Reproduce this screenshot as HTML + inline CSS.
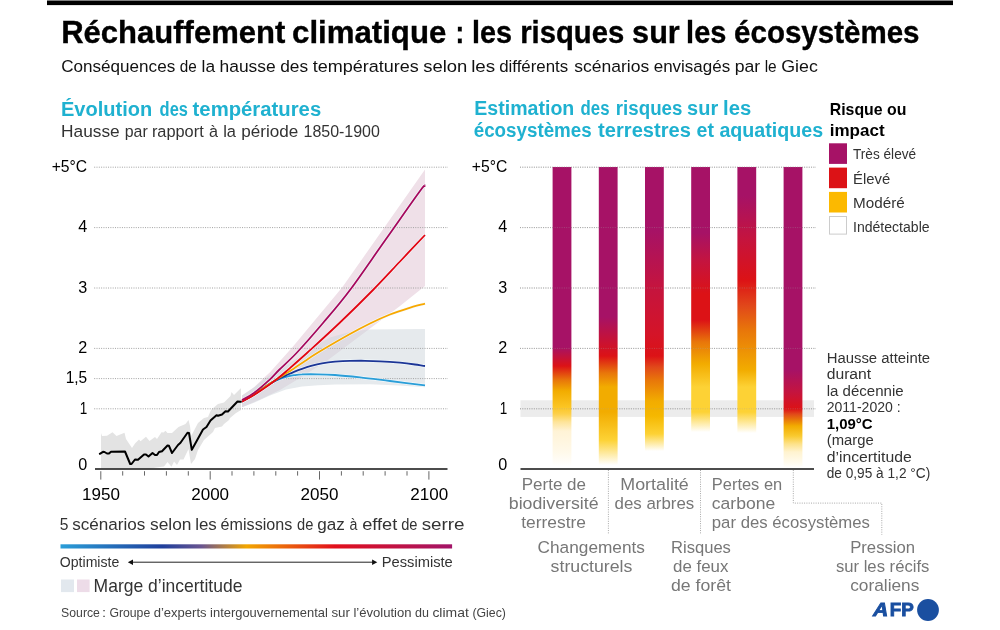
<!DOCTYPE html>
<html lang="fr">
<head>
<meta charset="utf-8">
<title>Réchauffement climatique : les risques sur les écosystèmes</title>
<style>html,body{margin:0;padding:0;background:#fff}body{width:1000px;height:630px;overflow:hidden;font-family:"Liberation Sans",sans-serif}svg{display:block}</style>
</head>
<body>
<svg role="img" aria-label="Réchauffement climatique : les risques sur les écosystèmes" width="1000" height="630" viewBox="0 0 1000 630" font-family='"Liberation Sans", sans-serif'>
<defs>
<linearGradient id="b0" gradientUnits="userSpaceOnUse" x1="0" y1="167" x2="0" y2="469">
<stop offset="0.0000" stop-color="#a61266"/>
<stop offset="0.5960" stop-color="#a61266"/>
<stop offset="0.6589" stop-color="#dc1216"/>
<stop offset="0.7053" stop-color="#e8760a"/>
<stop offset="0.7417" stop-color="#f2ac00"/>
<stop offset="0.7947" stop-color="#fbc523"/>
<stop offset="0.8179" stop-color="#fdd04a"/>
<stop offset="0.8444" stop-color="#fee49a"/>
<stop offset="0.8742" stop-color="#fff3d6"/>
<stop offset="0.9437" stop-color="#fff9ea"/>
<stop offset="0.9901" stop-color="#ffffff"/>
</linearGradient>
<linearGradient id="b1" gradientUnits="userSpaceOnUse" x1="0" y1="167" x2="0" y2="469">
<stop offset="0.0000" stop-color="#a61266"/>
<stop offset="0.4967" stop-color="#a61266"/>
<stop offset="0.6258" stop-color="#dc1216"/>
<stop offset="0.6821" stop-color="#e8760a"/>
<stop offset="0.7285" stop-color="#f2ac00"/>
<stop offset="0.8113" stop-color="#f2ac00"/>
<stop offset="0.9040" stop-color="#fdd235"/>
<stop offset="0.9868" stop-color="#ffffff"/>
</linearGradient>
<linearGradient id="b2" gradientUnits="userSpaceOnUse" x1="0" y1="167" x2="0" y2="469">
<stop offset="0.0000" stop-color="#a61266"/>
<stop offset="0.2086" stop-color="#a61266"/>
<stop offset="0.3940" stop-color="#c4143f"/>
<stop offset="0.5530" stop-color="#d41428"/>
<stop offset="0.6258" stop-color="#dc1216"/>
<stop offset="0.6623" stop-color="#e1481a"/>
<stop offset="0.7053" stop-color="#e8760a"/>
<stop offset="0.7748" stop-color="#f2ac00"/>
<stop offset="0.8245" stop-color="#f5b800"/>
<stop offset="0.8841" stop-color="#fdd235"/>
<stop offset="0.9404" stop-color="#ffffff"/>
</linearGradient>
<linearGradient id="b3" gradientUnits="userSpaceOnUse" x1="0" y1="167" x2="0" y2="469">
<stop offset="0.0000" stop-color="#a61266"/>
<stop offset="0.2185" stop-color="#a61266"/>
<stop offset="0.3113" stop-color="#c4143f"/>
<stop offset="0.4205" stop-color="#dc1216"/>
<stop offset="0.5066" stop-color="#dc1216"/>
<stop offset="0.5795" stop-color="#e8760a"/>
<stop offset="0.6523" stop-color="#f2ac00"/>
<stop offset="0.7285" stop-color="#fdd235"/>
<stop offset="0.8113" stop-color="#fdd235"/>
<stop offset="0.8775" stop-color="#ffffff"/>
</linearGradient>
<linearGradient id="b4" gradientUnits="userSpaceOnUse" x1="0" y1="167" x2="0" y2="469">
<stop offset="0.0000" stop-color="#a61266"/>
<stop offset="0.0960" stop-color="#a61266"/>
<stop offset="0.2351" stop-color="#c4143f"/>
<stop offset="0.3742" stop-color="#dc1216"/>
<stop offset="0.4603" stop-color="#e1481a"/>
<stop offset="0.5397" stop-color="#e8760a"/>
<stop offset="0.6722" stop-color="#f2ac00"/>
<stop offset="0.7285" stop-color="#fdd235"/>
<stop offset="0.8113" stop-color="#fdd235"/>
<stop offset="0.8808" stop-color="#ffffff"/>
</linearGradient>
<linearGradient id="b5" gradientUnits="userSpaceOnUse" x1="0" y1="167" x2="0" y2="469">
<stop offset="0.0000" stop-color="#a61266"/>
<stop offset="0.6722" stop-color="#a61266"/>
<stop offset="0.7450" stop-color="#c4143f"/>
<stop offset="0.8013" stop-color="#dc1216"/>
<stop offset="0.8179" stop-color="#e1481a"/>
<stop offset="0.8361" stop-color="#e8760a"/>
<stop offset="0.8576" stop-color="#f2ac00"/>
<stop offset="0.8907" stop-color="#f9ca30"/>
<stop offset="0.9172" stop-color="#fde28a"/>
<stop offset="0.9437" stop-color="#fff3d0"/>
<stop offset="0.9834" stop-color="#fffcf2"/>
<stop offset="0.9967" stop-color="#ffffff"/>
</linearGradient>
<linearGradient id="sc" x1="0" y1="0" x2="1" y2="0"><stop offset="0" stop-color="#2a9ed8"/><stop offset="0.26" stop-color="#1f3f9c"/><stop offset="0.36" stop-color="#6a5590"/><stop offset="0.475" stop-color="#f2a600"/><stop offset="0.70" stop-color="#e2101c"/><stop offset="1" stop-color="#a21468"/></linearGradient>
</defs>
<rect width="1000" height="630" fill="#fff"/>
<rect x="47" y="0.5" width="906" height="4.6" fill="#000"/>
<text y="43.2" font-size="30.5" font-weight="700" fill="#000" stroke="#000" stroke-width="0.35"><tspan x="61.2" textLength="224.1" lengthAdjust="spacingAndGlyphs">Réchauffement</tspan> <tspan x="292.1" textLength="154.2" lengthAdjust="spacingAndGlyphs">climatique</tspan> <tspan x="455.6" textLength="8.7" lengthAdjust="spacingAndGlyphs">:</tspan> <tspan x="472.1" textLength="40.0" lengthAdjust="spacingAndGlyphs">les</tspan> <tspan x="520.2" textLength="104.1" lengthAdjust="spacingAndGlyphs">risques</tspan> <tspan x="632.1" textLength="47.7" lengthAdjust="spacingAndGlyphs">sur</tspan> <tspan x="686.1" textLength="40.2" lengthAdjust="spacingAndGlyphs">les</tspan> <tspan x="734.1" textLength="185.4" lengthAdjust="spacingAndGlyphs">écosystèmes</tspan></text>
<text y="71.6" font-size="17.2" fill="#111"><tspan x="61.2" textLength="114.0" lengthAdjust="spacingAndGlyphs">Conséquences</tspan> <tspan x="179.7" textLength="17.0" lengthAdjust="spacingAndGlyphs">de</tspan> <tspan x="201.6" textLength="13.5" lengthAdjust="spacingAndGlyphs">la</tspan> <tspan x="219.6" textLength="56.1" lengthAdjust="spacingAndGlyphs">hausse</tspan> <tspan x="280.2" textLength="27.9" lengthAdjust="spacingAndGlyphs">des</tspan> <tspan x="312.7" textLength="106.0" lengthAdjust="spacingAndGlyphs">températures</tspan> <tspan x="423.2" textLength="44.1" lengthAdjust="spacingAndGlyphs">selon</tspan> <tspan x="471.2" textLength="24.0" lengthAdjust="spacingAndGlyphs">les</tspan> <tspan x="499.2" textLength="69.0" lengthAdjust="spacingAndGlyphs">différents</tspan> <tspan x="574.2" textLength="75.0" lengthAdjust="spacingAndGlyphs">scénarios</tspan> <tspan x="653.7" textLength="76.5" lengthAdjust="spacingAndGlyphs">envisagés</tspan> <tspan x="734.7" textLength="25.5" lengthAdjust="spacingAndGlyphs">par</tspan> <tspan x="764.7" textLength="12.0" lengthAdjust="spacingAndGlyphs">le</tspan> <tspan x="781.2" textLength="36.6" lengthAdjust="spacingAndGlyphs">Giec</tspan></text>
<text y="116.0" font-size="20" font-weight="700" fill="#1fb1d0"><tspan x="61.0" textLength="91.2" lengthAdjust="spacingAndGlyphs">Évolution</tspan> <tspan x="159.6" textLength="28.3" lengthAdjust="spacingAndGlyphs">des</tspan> <tspan x="192.6" textLength="128.6" lengthAdjust="spacingAndGlyphs">températures</tspan></text>
<text y="137.4" font-size="17.2" fill="#333"><tspan x="61.1" textLength="58.6" lengthAdjust="spacingAndGlyphs">Hausse</tspan> <tspan x="124.7" textLength="23.0" lengthAdjust="spacingAndGlyphs">par</tspan> <tspan x="151.9" textLength="51.8" lengthAdjust="spacingAndGlyphs">rapport</tspan> <tspan x="209.0" textLength="9.0" lengthAdjust="spacingAndGlyphs">à</tspan> <tspan x="223.2" textLength="12.8" lengthAdjust="spacingAndGlyphs">la</tspan> <tspan x="241.2" textLength="57.0" lengthAdjust="spacingAndGlyphs">période</tspan> <tspan x="303.5" textLength="76.4" lengthAdjust="spacingAndGlyphs">1850-1900</tspan></text>
<text y="115.2" font-size="20" font-weight="700" fill="#1fb1d0"><tspan x="474.3" textLength="100.0" lengthAdjust="spacingAndGlyphs">Estimation</tspan> <tspan x="580.6" textLength="28.9" lengthAdjust="spacingAndGlyphs">des</tspan> <tspan x="615.8" textLength="66.6" lengthAdjust="spacingAndGlyphs">risques</tspan> <tspan x="687.1" textLength="31.1" lengthAdjust="spacingAndGlyphs">sur</tspan> <tspan x="723.1" textLength="28.2" lengthAdjust="spacingAndGlyphs">les</tspan></text>
<text y="136.9" font-size="20" font-weight="700" fill="#1fb1d0"><tspan x="473.7" textLength="118.0" lengthAdjust="spacingAndGlyphs">écosystèmes</tspan> <tspan x="598.1" textLength="92.8" lengthAdjust="spacingAndGlyphs">terrestres</tspan> <tspan x="696.5" textLength="17.4" lengthAdjust="spacingAndGlyphs">et</tspan> <tspan x="719.4" textLength="103.7" lengthAdjust="spacingAndGlyphs">aquatiques</tspan></text>
<path d="M101,433 L102,436 L107,435.8 L112.5,432.2 L116.5,436 L124.5,432.8 L126,439 L132,448 L135,443.5 L139,439.5 L140.5,441.2 L146,436.8 L149.5,441 L155,437 L157,439 L161.5,432.2 L163.5,432.5 L165.5,430.8 L167.5,433 L172,433 L178.5,427 L185.5,424 L188.5,420 L190,426 L191.2,436 L198,423 L204,418 L208,417 L211,410 L218,404 L224,402.5 L230.5,396 L231.5,392 L234,395 L240.5,388.5 L241,388.5 L241,410 L236,413 L230,418 L229,420 L224,424 L222,426.5 L215,428 L213,432 L204,440 L198,450 L195,459 L191,464 L188.5,449 L183.5,459.5 L180,459.5 L177,465 L174,461.5 L171.5,466.8 L167.5,462 L164,466.5 L160,467 L150,468.5 L101,468.5Z" fill="#e3e3e3"/>
<path d="M242,395.6 L254,387.3 L265,376.8 L270,372.2 L285,355.5 L293,346.5 L340,290 L343,286.3 L425,169.5 L425,286 L400,306 L360,336 L328,360 L300,378 L280,390 L260,399.5 L242,407.2Z" fill="#efe0e8"/>
<path d="M242,395.6 L254,387.5 L265,378.5 L275,372 L285,366.5 L300,356.5 L315,346 L330,337.5 L350,332 L368,329.6 L425,329 L425,387.2 L400,385.4 L370,384.3 L335,384.6 L318,385.2 L302,386.4 L286,389.6 L270,395.6 L254,402.8 L242,407.2Z" fill="#cdd5db" fill-opacity="0.5"/>
<line x1="94.2" x2="448" y1="167.2" y2="167.2" stroke="#a2a2a2" stroke-width="1" stroke-dasharray="1 1.31"/>
<line x1="94.2" x2="448" y1="227.6" y2="227.6" stroke="#a2a2a2" stroke-width="1" stroke-dasharray="1 1.31"/>
<line x1="94.2" x2="448" y1="288.0" y2="288.0" stroke="#a2a2a2" stroke-width="1" stroke-dasharray="1 1.31"/>
<line x1="94.2" x2="448" y1="348.4" y2="348.4" stroke="#a2a2a2" stroke-width="1" stroke-dasharray="1 1.31"/>
<line x1="94.2" x2="448" y1="378.6" y2="378.6" stroke="#a2a2a2" stroke-width="1" stroke-dasharray="1 1.31"/>
<line x1="94.2" x2="448" y1="408.8" y2="408.8" stroke="#a2a2a2" stroke-width="1" stroke-dasharray="1 1.31"/>
<path d="M242,401.4 C244.0,400.2 249.3,397.3 254,394.4 C258.7,391.5 266.0,386.3 270,383.8 C274.0,381.3 275.3,380.8 278,379.6 C280.7,378.4 283.3,377.5 286,376.8 C288.7,376.1 291.3,375.6 294,375.2 C296.7,374.8 298.0,374.5 302,374.4 C306.0,374.2 312.5,374.2 318,374.3 C323.5,374.4 328.0,374.5 335,375 C342.0,375.5 350.8,376.4 360,377.4 C369.2,378.4 379.2,379.7 390,381 C400.8,382.3 419.2,384.7 425,385.4" fill="none" stroke="#f4fbff" stroke-opacity="0.8" stroke-width="3.1"/>
<path d="M242,401.4 C244.0,400.2 249.3,397.4 254,394.4 C258.7,391.4 266.0,386.1 270,383.6 C274.0,381.1 275.3,380.6 278,379.2 C280.7,377.8 283.3,376.6 286,375.4 C288.7,374.2 291.3,372.9 294,371.8 C296.7,370.7 299.0,369.8 302,368.8 C305.0,367.8 308.7,366.6 312,365.7 C315.3,364.8 318.2,364.1 322,363.4 C325.8,362.7 330.3,362.1 335,361.7 C339.7,361.3 345.0,361.0 350,360.9 C355.0,360.8 360.0,360.7 365,360.8 C370.0,360.9 374.2,361.0 380,361.3 C385.8,361.6 394.2,362.2 400,362.7 C405.8,363.2 410.8,363.9 415,364.5 C419.2,365.1 423.3,365.8 425,366" fill="none" stroke="#f4fbff" stroke-opacity="0.8" stroke-width="3.1"/>
<path d="M242,401.4 C244.0,400.2 249.3,397.4 254,394.4 C258.7,391.4 266.0,386.2 270,383.6 C274.0,381.0 275.3,380.3 278,378.6 C280.7,376.9 283.7,374.9 286,373.4 C288.3,371.9 288.8,371.9 292,369.8 C295.2,367.7 300.7,363.9 305,361 C309.3,358.1 310.5,357.0 318,352.5 C325.5,348.0 341.3,338.8 350,334 C358.7,329.2 363.3,326.8 370,323.5 C376.7,320.2 383.7,317.0 390,314.5 C396.3,312.0 402.2,310.1 408,308.3 C413.8,306.5 422.2,304.4 425,303.6" fill="none" stroke="#f4fbff" stroke-opacity="0.8" stroke-width="3.1"/>
<path d="M242,401.7 C244.0,400.6 249.3,397.8 254,394.9 C258.7,392.0 266.0,387.0 270,384.2 C274.0,381.4 275.3,380.3 278,378.2 C280.7,376.1 281.1,375.8 286,371.5 C290.9,367.2 298.5,360.7 307.5,352.5 C316.5,344.3 329.1,332.9 340,322.5 C350.9,312.1 363.0,300.2 373,290 C383.0,279.8 391.3,270.7 400,261.5 C408.7,252.3 420.8,239.4 425,235" fill="none" stroke="#f4fbff" stroke-opacity="0.8" stroke-width="3.1"/>
<path d="M242,400.1 C244.0,398.9 249.3,396.4 254,392.9 C258.7,389.4 265.8,383.1 270,379.3 C274.2,375.5 274.5,374.5 279,370 C283.5,365.5 289.7,360.3 297,352.5 C304.3,344.7 314.2,333.4 323,323 C331.8,312.6 339.7,303.8 350,290 C360.3,276.2 373.3,257.0 385,240.5 C396.7,224.0 413.3,200.1 420,191 C426.7,181.9 424.2,186.8 425,186" fill="none" stroke="#f4fbff" stroke-opacity="0.8" stroke-width="3.1"/>
<path d="M242,401.4 C244.0,400.2 249.3,397.3 254,394.4 C258.7,391.5 266.0,386.3 270,383.8 C274.0,381.3 275.3,380.8 278,379.6 C280.7,378.4 283.3,377.5 286,376.8 C288.7,376.1 291.3,375.6 294,375.2 C296.7,374.8 298.0,374.5 302,374.4 C306.0,374.2 312.5,374.2 318,374.3 C323.5,374.4 328.0,374.5 335,375 C342.0,375.5 350.8,376.4 360,377.4 C369.2,378.4 379.2,379.7 390,381 C400.8,382.3 419.2,384.7 425,385.4" fill="none" stroke="#2a9ed8" stroke-width="1.8"/>
<path d="M242,401.4 C244.0,400.2 249.3,397.4 254,394.4 C258.7,391.4 266.0,386.1 270,383.6 C274.0,381.1 275.3,380.6 278,379.2 C280.7,377.8 283.3,376.6 286,375.4 C288.7,374.2 291.3,372.9 294,371.8 C296.7,370.7 299.0,369.8 302,368.8 C305.0,367.8 308.7,366.6 312,365.7 C315.3,364.8 318.2,364.1 322,363.4 C325.8,362.7 330.3,362.1 335,361.7 C339.7,361.3 345.0,361.0 350,360.9 C355.0,360.8 360.0,360.7 365,360.8 C370.0,360.9 374.2,361.0 380,361.3 C385.8,361.6 394.2,362.2 400,362.7 C405.8,363.2 410.8,363.9 415,364.5 C419.2,365.1 423.3,365.8 425,366" fill="none" stroke="#1c3596" stroke-width="1.8"/>
<path d="M242,401.4 C244.0,400.2 249.3,397.4 254,394.4 C258.7,391.4 266.0,386.2 270,383.6 C274.0,381.0 275.3,380.3 278,378.6 C280.7,376.9 283.7,374.9 286,373.4 C288.3,371.9 288.8,371.9 292,369.8 C295.2,367.7 300.7,363.9 305,361 C309.3,358.1 310.5,357.0 318,352.5 C325.5,348.0 341.3,338.8 350,334 C358.7,329.2 363.3,326.8 370,323.5 C376.7,320.2 383.7,317.0 390,314.5 C396.3,312.0 402.2,310.1 408,308.3 C413.8,306.5 422.2,304.4 425,303.6" fill="none" stroke="#f8a800" stroke-width="1.8"/>
<path d="M242,401.7 C244.0,400.6 249.3,397.8 254,394.9 C258.7,392.0 266.0,387.0 270,384.2 C274.0,381.4 275.3,380.3 278,378.2 C280.7,376.1 281.1,375.8 286,371.5 C290.9,367.2 298.5,360.7 307.5,352.5 C316.5,344.3 329.1,332.9 340,322.5 C350.9,312.1 363.0,300.2 373,290 C383.0,279.8 391.3,270.7 400,261.5 C408.7,252.3 420.8,239.4 425,235" fill="none" stroke="#e30512" stroke-width="1.8"/>
<path d="M242,400.1 C244.0,398.9 249.3,396.4 254,392.9 C258.7,389.4 265.8,383.1 270,379.3 C274.2,375.5 274.5,374.5 279,370 C283.5,365.5 289.7,360.3 297,352.5 C304.3,344.7 314.2,333.4 323,323 C331.8,312.6 339.7,303.8 350,290 C360.3,276.2 373.3,257.0 385,240.5 C396.7,224.0 413.3,200.1 420,191 C426.7,181.9 424.2,186.8 425,186" fill="none" stroke="#a6085c" stroke-width="1.8"/>
<path d="M99.8,453.8 L103,451.8 L104.5,452 L107,453.5 L109,453.5 L111,451.8 L125,451.5 L130.2,464 L131.5,464 L135,459.5 L138,459.8 L144,454.5 L146,454.5 L148.5,456.5 L152.5,453 L155,455 L157,455 L159,452 L162,451.2 L167.5,445.5 L169,445.8 L172,453 L178,445 L180.5,442.8 L187.5,432.8 L189,433 L191.8,449.8 L195,444 L203,429.5 L206.5,427 L210.5,420.5 L216.5,415.2 L218,415.8 L222,414.5 L225.5,411.2 L228,411.5 L237.5,401.5 L240.8,401.8" fill="none" stroke="#000" stroke-width="2" stroke-linejoin="round" stroke-linecap="round"/>
<line x1="95" x2="447.5" y1="469.1" y2="469.1" stroke="#111" stroke-width="1.5"/>
<line x1="100.8" x2="100.8" y1="471.2" y2="479.6" stroke="#666" stroke-width="1"/>
<line x1="122.7" x2="122.7" y1="471.2" y2="475.6" stroke="#666" stroke-width="1"/>
<line x1="144.5" x2="144.5" y1="471.2" y2="475.6" stroke="#666" stroke-width="1"/>
<line x1="166.4" x2="166.4" y1="471.2" y2="475.6" stroke="#666" stroke-width="1"/>
<line x1="188.3" x2="188.3" y1="471.2" y2="475.6" stroke="#666" stroke-width="1"/>
<line x1="210.2" x2="210.2" y1="471.2" y2="479.6" stroke="#666" stroke-width="1"/>
<line x1="232.0" x2="232.0" y1="471.2" y2="475.6" stroke="#666" stroke-width="1"/>
<line x1="253.9" x2="253.9" y1="471.2" y2="475.6" stroke="#666" stroke-width="1"/>
<line x1="275.8" x2="275.8" y1="471.2" y2="475.6" stroke="#666" stroke-width="1"/>
<line x1="297.6" x2="297.6" y1="471.2" y2="475.6" stroke="#666" stroke-width="1"/>
<line x1="319.5" x2="319.5" y1="471.2" y2="479.6" stroke="#666" stroke-width="1"/>
<line x1="341.4" x2="341.4" y1="471.2" y2="475.6" stroke="#666" stroke-width="1"/>
<line x1="363.2" x2="363.2" y1="471.2" y2="475.6" stroke="#666" stroke-width="1"/>
<line x1="385.1" x2="385.1" y1="471.2" y2="475.6" stroke="#666" stroke-width="1"/>
<line x1="407.0" x2="407.0" y1="471.2" y2="475.6" stroke="#666" stroke-width="1"/>
<line x1="428.9" x2="428.9" y1="471.2" y2="479.6" stroke="#666" stroke-width="1"/>
<text x="82.0" y="499.6" font-size="17.2" fill="#000" textLength="37.9" lengthAdjust="spacingAndGlyphs">1950</text>
<text x="191.2" y="499.6" font-size="17.2" fill="#000" textLength="37.9" lengthAdjust="spacingAndGlyphs">2000</text>
<text x="300.6" y="499.6" font-size="17.2" fill="#000" textLength="37.9" lengthAdjust="spacingAndGlyphs">2050</text>
<text x="410.3" y="499.6" font-size="17.2" fill="#000" textLength="37.9" lengthAdjust="spacingAndGlyphs">2100</text>
<text x="51.7" y="171.5" font-size="17.2" fill="#000" textLength="35.5" lengthAdjust="spacingAndGlyphs">+5°C</text>
<text x="471.8" y="171.5" font-size="17.2" fill="#000" textLength="35.5" lengthAdjust="spacingAndGlyphs">+5°C</text>
<text x="78.2" y="232.2" font-size="17.2" fill="#000" textLength="9.0" lengthAdjust="spacingAndGlyphs">4</text>
<text x="498.3" y="232.2" font-size="17.2" fill="#000" textLength="9.0" lengthAdjust="spacingAndGlyphs">4</text>
<text x="78.2" y="292.6" font-size="17.2" fill="#000" textLength="9.0" lengthAdjust="spacingAndGlyphs">3</text>
<text x="498.3" y="292.6" font-size="17.2" fill="#000" textLength="9.0" lengthAdjust="spacingAndGlyphs">3</text>
<text x="78.2" y="353.0" font-size="17.2" fill="#000" textLength="9.0" lengthAdjust="spacingAndGlyphs">2</text>
<text x="498.3" y="353.0" font-size="17.2" fill="#000" textLength="9.0" lengthAdjust="spacingAndGlyphs">2</text>
<text x="65.7" y="383.2" font-size="17.2" fill="#000" textLength="21.5" lengthAdjust="spacingAndGlyphs">1,5</text>
<text x="79.7" y="413.6" font-size="17.2" fill="#000" textLength="7.5" lengthAdjust="spacingAndGlyphs">1</text>
<text x="499.8" y="413.6" font-size="17.2" fill="#000" textLength="7.5" lengthAdjust="spacingAndGlyphs">1</text>
<text x="78.2" y="469.6" font-size="17.2" fill="#000" textLength="9.0" lengthAdjust="spacingAndGlyphs">0</text>
<text x="498.3" y="469.6" font-size="17.2" fill="#000" textLength="9.0" lengthAdjust="spacingAndGlyphs">0</text>
<text y="530.4" font-size="17.4" fill="#333"><tspan x="59.7" textLength="8.7" lengthAdjust="spacingAndGlyphs">5</tspan> <tspan x="72.2" textLength="73.1" lengthAdjust="spacingAndGlyphs">scénarios</tspan> <tspan x="150.0" textLength="41.5" lengthAdjust="spacingAndGlyphs">selon</tspan> <tspan x="195.2" textLength="21.6" lengthAdjust="spacingAndGlyphs">les</tspan> <tspan x="220.6" textLength="71.7" lengthAdjust="spacingAndGlyphs">émissions</tspan> <tspan x="297.0" textLength="16.3" lengthAdjust="spacingAndGlyphs">de</tspan> <tspan x="317.2" textLength="27.6" lengthAdjust="spacingAndGlyphs">gaz</tspan> <tspan x="349.5" textLength="7.9" lengthAdjust="spacingAndGlyphs">à</tspan> <tspan x="362.2" textLength="35.1" lengthAdjust="spacingAndGlyphs">effet</tspan> <tspan x="401.2" textLength="16.3" lengthAdjust="spacingAndGlyphs">de</tspan> <tspan x="421.7" textLength="42.9" lengthAdjust="spacingAndGlyphs">serre</tspan></text>
<rect x="60.5" y="544.3" width="391.6" height="4.2" fill="url(#sc)"/>
<text x="59.8" y="566.5" font-size="15.1" fill="#333" textLength="59.5" lengthAdjust="spacingAndGlyphs">Optimiste</text>
<text x="381.7" y="566.5" font-size="15.1" fill="#333" textLength="71.1" lengthAdjust="spacingAndGlyphs">Pessimiste</text>
<line x1="131" x2="374" y1="562.2" y2="562.2" stroke="#222" stroke-width="1"/>
<path d="M127.8,562.2 l5.2,-2.8 v5.6z M377.3,562.2 l-5.2,-2.8 v5.6z" fill="#111"/>
<rect x="61" y="579.5" width="13" height="12.6" fill="#e2e8ee"/>
<rect x="77" y="579.5" width="12.6" height="12.6" fill="#eddce8"/>
<text x="93.6" y="591.6" font-size="17.9" fill="#333" textLength="148.8" lengthAdjust="spacingAndGlyphs">Marge d’incertitude</text>
<text y="617.0" font-size="13.2" fill="#444"><tspan x="61.1" textLength="38.8" lengthAdjust="spacingAndGlyphs">Source</tspan> <tspan x="102.0" textLength="4.1" lengthAdjust="spacingAndGlyphs">:</tspan> <tspan x="109.4" textLength="40.8" lengthAdjust="spacingAndGlyphs">Groupe</tspan> <tspan x="153.7" textLength="52.9" lengthAdjust="spacingAndGlyphs">d’experts</tspan> <tspan x="210.1" textLength="117.8" lengthAdjust="spacingAndGlyphs">intergouvernemental</tspan> <tspan x="331.4" textLength="18.5" lengthAdjust="spacingAndGlyphs">sur</tspan> <tspan x="353.4" textLength="58.2" lengthAdjust="spacingAndGlyphs">l’évolution</tspan> <tspan x="415.0" textLength="13.9" lengthAdjust="spacingAndGlyphs">du</tspan> <tspan x="432.4" textLength="36.4" lengthAdjust="spacingAndGlyphs">climat</tspan> <tspan x="472.4" textLength="33.5" lengthAdjust="spacingAndGlyphs">(Giec)</tspan></text>
<rect x="520.5" y="400.3" width="293.5" height="16.6" fill="#ececec"/>
<line x1="520" x2="816" y1="167.2" y2="167.2" stroke="#a2a2a2" stroke-width="1" stroke-dasharray="1 1.31"/>
<line x1="520" x2="816" y1="227.6" y2="227.6" stroke="#a2a2a2" stroke-width="1" stroke-dasharray="1 1.31"/>
<line x1="520" x2="816" y1="288.0" y2="288.0" stroke="#a2a2a2" stroke-width="1" stroke-dasharray="1 1.31"/>
<line x1="520" x2="816" y1="348.4" y2="348.4" stroke="#a2a2a2" stroke-width="1" stroke-dasharray="1 1.31"/>
<line x1="520" x2="816" y1="408.8" y2="408.8" stroke="#a2a2a2" stroke-width="1" stroke-dasharray="1 1.31"/>
<rect x="552.6" y="167" width="18.8" height="302" fill="url(#b0)"/>
<rect x="598.8" y="167" width="18.8" height="302" fill="url(#b1)"/>
<rect x="645.0" y="167" width="18.8" height="302" fill="url(#b2)"/>
<rect x="691.2" y="167" width="18.8" height="302" fill="url(#b3)"/>
<rect x="737.4" y="167" width="18.8" height="302" fill="url(#b4)"/>
<rect x="783.6" y="167" width="18.8" height="302" fill="url(#b5)"/>
<rect x="552.6" y="400.3" width="18.8" height="16.6" fill="#000" fill-opacity="0"/>
<rect x="598.8" y="400.3" width="18.8" height="16.6" fill="#000" fill-opacity="0"/>
<rect x="645.0" y="400.3" width="18.8" height="16.6" fill="#000" fill-opacity="0"/>
<rect x="691.2" y="400.3" width="18.8" height="16.6" fill="#000" fill-opacity="0"/>
<rect x="737.4" y="400.3" width="18.8" height="16.6" fill="#000" fill-opacity="0"/>
<rect x="783.6" y="400.3" width="18.8" height="16.6" fill="#000" fill-opacity="0"/>
<line x1="520" x2="816" y1="167.2" y2="167.2" stroke="#a2a2a2" stroke-width="1" stroke-dasharray="1 1.31" stroke-opacity="0.35"/>
<line x1="520" x2="816" y1="227.6" y2="227.6" stroke="#a2a2a2" stroke-width="1" stroke-dasharray="1 1.31" stroke-opacity="0.35"/>
<line x1="520" x2="816" y1="288.0" y2="288.0" stroke="#a2a2a2" stroke-width="1" stroke-dasharray="1 1.31" stroke-opacity="0.35"/>
<line x1="520" x2="816" y1="348.4" y2="348.4" stroke="#a2a2a2" stroke-width="1" stroke-dasharray="1 1.31" stroke-opacity="0.35"/>
<line x1="520" x2="816" y1="408.8" y2="408.8" stroke="#a2a2a2" stroke-width="1" stroke-dasharray="1 1.31" stroke-opacity="0.35"/>
<line x1="520.5" x2="814" y1="469.1" y2="469.1" stroke="#111" stroke-width="1.5"/>
<path d="M608.4,470 V534.7 M700.5,470 V534.7 M793.3,470 V503.1 H881.8 V534.7" stroke="#a8a8a8" stroke-width="1" stroke-dasharray="1 1.31" fill="none"/>
<text x="521.8" y="489.6" font-size="17.2" fill="#777" textLength="64.2" lengthAdjust="spacingAndGlyphs">Perte de</text>
<text x="508.8" y="508.8" font-size="17.2" fill="#777" textLength="89.7" lengthAdjust="spacingAndGlyphs">biodiversité</text>
<text x="521.3" y="527.7" font-size="17.2" fill="#777" textLength="64.7" lengthAdjust="spacingAndGlyphs">terrestre</text>
<text x="620.3" y="489.6" font-size="17.2" fill="#777" textLength="68.5" lengthAdjust="spacingAndGlyphs">Mortalité</text>
<text x="614.6" y="508.8" font-size="17.2" fill="#777" textLength="79.7" lengthAdjust="spacingAndGlyphs">des arbres</text>
<text x="711.8" y="489.6" font-size="17.2" fill="#777" textLength="70.4" lengthAdjust="spacingAndGlyphs">Pertes en</text>
<text x="711.8" y="508.8" font-size="17.2" fill="#777" textLength="63.4" lengthAdjust="spacingAndGlyphs">carbone</text>
<text x="711.8" y="527.7" font-size="17.2" fill="#777" textLength="158.2" lengthAdjust="spacingAndGlyphs">par des écosystèmes</text>
<text x="537.6" y="552.8" font-size="17.2" fill="#777" textLength="107.3" lengthAdjust="spacingAndGlyphs">Changements</text>
<text x="550.6" y="571.9" font-size="17.2" fill="#777" textLength="81.8" lengthAdjust="spacingAndGlyphs">structurels</text>
<text x="671.0" y="552.8" font-size="17.2" fill="#777" textLength="59.9" lengthAdjust="spacingAndGlyphs">Risques</text>
<text x="673.0" y="571.9" font-size="17.2" fill="#777" textLength="55.4" lengthAdjust="spacingAndGlyphs">de feux</text>
<text x="671.0" y="590.7" font-size="17.2" fill="#777" textLength="59.9" lengthAdjust="spacingAndGlyphs">de forêt</text>
<text x="850.2" y="552.8" font-size="17.2" fill="#777" textLength="64.9" lengthAdjust="spacingAndGlyphs">Pression</text>
<text x="835.9" y="571.9" font-size="17.2" fill="#777" textLength="93.5" lengthAdjust="spacingAndGlyphs">sur les récifs</text>
<text x="850.2" y="590.7" font-size="17.2" fill="#777" textLength="69.2" lengthAdjust="spacingAndGlyphs">coraliens</text>
<text x="829.7" y="115.4" font-size="16.6" font-weight="700" fill="#000" textLength="76.7" lengthAdjust="spacingAndGlyphs">Risque ou</text>
<text x="829.7" y="135.7" font-size="16.6" font-weight="700" fill="#000" textLength="54.9" lengthAdjust="spacingAndGlyphs">impact</text>
<rect x="829" y="143.3" width="18" height="20.6" fill="#a61266"/>
<rect x="829" y="167.6" width="18" height="20.6" fill="#dc1216"/>
<rect x="829" y="191.9" width="18" height="20.6" fill="#fcb900"/>
<rect x="829.5" y="216.5" width="17" height="17.6" fill="#fff" stroke="#ccc" stroke-width="1"/>
<text x="853.0" y="159.2" font-size="15.5" fill="#333" textLength="63.1" lengthAdjust="spacingAndGlyphs">Très élevé</text>
<text x="853.0" y="183.8" font-size="15.5" fill="#333" textLength="37.2" lengthAdjust="spacingAndGlyphs">Élevé</text>
<text x="853.0" y="208.0" font-size="15.5" fill="#333" textLength="51.7" lengthAdjust="spacingAndGlyphs">Modéré</text>
<text x="853.0" y="231.6" font-size="15.5" fill="#333" textLength="76.6" lengthAdjust="spacingAndGlyphs">Indétectable</text>
<text x="826.7" y="362.9" font-size="15.4" fill="#333" textLength="103.4" lengthAdjust="spacingAndGlyphs">Hausse atteinte</text>
<text x="826.7" y="379.4" font-size="15.4" fill="#333" textLength="44.5" lengthAdjust="spacingAndGlyphs">durant</text>
<text x="826.7" y="395.9" font-size="15.4" fill="#333" textLength="77.0" lengthAdjust="spacingAndGlyphs">la décennie</text>
<text x="826.7" y="412.4" font-size="15.4" fill="#333" textLength="74.0" lengthAdjust="spacingAndGlyphs">2011-2020 :</text>
<text x="826.7" y="428.9" font-size="15.4" font-weight="700" fill="#000" textLength="46.0" lengthAdjust="spacingAndGlyphs">1,09°C</text>
<text x="826.7" y="445.4" font-size="15.4" fill="#333" textLength="47.0" lengthAdjust="spacingAndGlyphs">(marge</text>
<text x="826.7" y="461.9" font-size="15.4" fill="#333" textLength="85.0" lengthAdjust="spacingAndGlyphs">d’incertitude</text>
<text x="826.7" y="478.4" font-size="15.4" fill="#333" textLength="103.5" lengthAdjust="spacingAndGlyphs">de 0,95 à 1,2 °C)</text>
<g font-size="19" font-weight="700" fill="#1a4fa0" stroke="#1a4fa0" stroke-width="0.9" stroke-linejoin="miter"><text transform="translate(872,616.4) skewX(-13)" x="0" y="0" textLength="15.2" lengthAdjust="spacingAndGlyphs">A</text><text x="889.8" y="616.4" textLength="24" lengthAdjust="spacingAndGlyphs">FP</text></g>
<circle cx="928" cy="610" r="10.9" fill="#1a4fa0"/>
</svg>
</body>
</html>
